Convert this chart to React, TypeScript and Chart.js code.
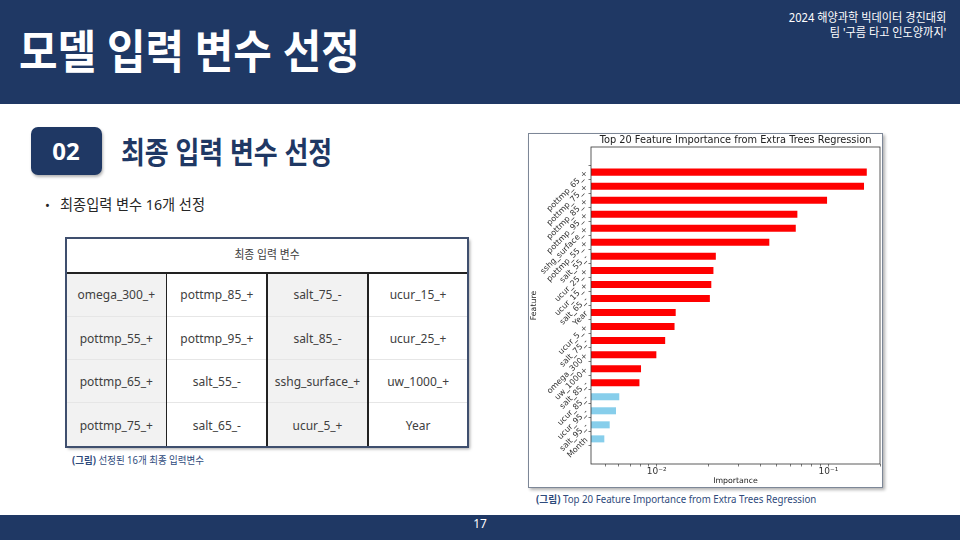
import React, { useEffect, useRef } from "react";
import { Chart, registerables } from "chart.js";

Chart.register(...registerables);

// ---------- data ----------
const chartTitle = "Top 20 Feature Importance from Extra Trees Regression";
const features = [
  "pottmp_65_+", "pottmp_75_+", "pottmp_85_+", "pottmp_95_+", "sshg_surface_+",
  "pottmp_55_+", "salt_55_-", "ucur_25_+", "ucur_15_+", "salt_65_-",
  "Year", "ucur_5_+", "salt_75_-", "omega_300+", "uw_1000+",
  "salt_85_-", "ucur_85_-", "ucur_95_-", "salt_95_-", "Month",
];
const importance = [
  0.1675, 0.1614, 0.0983, 0.066, 0.0646,
  0.0453, 0.0221, 0.0214, 0.0208, 0.0204,
  0.0129, 0.0127, 0.0112, 0.00995, 0.0081,
  0.00793, 0.00605, 0.00579, 0.00532, 0.00495,
];
const selectedCount = 16;
const xTickValues = [
  0.005, 0.006, 0.007, 0.008, 0.009, 0.01,
  0.02, 0.03, 0.04, 0.05, 0.06, 0.07, 0.08, 0.09, 0.1, 0.2,
];
const xMajorLabels: Record<string, string> = { "0.01": "10\u207B\u00B2", "0.1": "10\u207B\u00B9" };
const xRange = [0.00414, 0.2];
const yRange = [-1.225, 20.225];

const tableHeader = "최종 입력 변수";
const tableRows = [
  ["omega_300_+", "pottmp_85_+", "salt_75_-", "ucur_15_+"],
  ["pottmp_55_+", "pottmp_95_+", "salt_85_-", "ucur_25_+"],
  ["pottmp_65_+", "salt_55_-", "sshg_surface_+", "uw_1000_+"],
  ["pottmp_75_+", "salt_65_-", "ucur_5_+", "Year"],
];

const NAVY = "#1f3864";
const KFONT = '"Noto Sans", "Noto Sans CJK KR", sans-serif';
const CFONT = '"DejaVu Sans", sans-serif';

type TextProps = {
  x: number; cy: number; size: number; text: React.ReactNode;
  color?: string; weight?: number; sx?: number; align?: "left" | "right" | "center";
  family?: string;
};

function Txt({ x, cy, size, text, color = "#222", weight = 400, sx = 1, align = "left", family = KFONT }: TextProps) {
  const h = size * 1.6;
  const style: React.CSSProperties = {
    position: "absolute",
    top: cy - h / 2,
    height: h,
    lineHeight: h + "px",
    fontSize: size,
    fontWeight: weight,
    color,
    fontFamily: family,
    whiteSpace: "nowrap",
    transform: `scaleX(${sx})`,
  };
  if (align === "left") {
    style.left = x;
    style.transformOrigin = "left center";
  } else if (align === "right") {
    style.right = 960 - x;
    style.transformOrigin = "right center";
  } else {
    style.left = x - 200;
    style.width = 400;
    style.textAlign = "center";
    style.transformOrigin = "center center";
  }
  return <div style={style}>{text}</div>;
}

function FeatureChart() {
  const ref = useRef<HTMLCanvasElement | null>(null);
  useEffect(() => {
    if (!ref.current) return;
    const titlePlugin = {
      id: "axTitle",
      afterDraw(chart: any) {
        const { ctx, chartArea } = chart;
        ctx.save();
        ctx.font = `9.8px ${CFONT}`;
        ctx.fillStyle = "#222";
        ctx.textAlign = "center";
        ctx.textBaseline = "middle";
        ctx.fillText(chartTitle, (chartArea.left + chartArea.right) / 2, chartArea.top - 7);
        ctx.strokeStyle = "#333";
        ctx.lineWidth = 0.8;
        ctx.strokeRect(chartArea.left, chartArea.top, chartArea.right - chartArea.left, chartArea.bottom - chartArea.top);
        ctx.restore();
      },
    };
    const chart = new Chart(ref.current, {
      type: "bar",
      data: {
        datasets: [
          {
            data: importance.map((v, i) => ({ x: v, y: i })),
            backgroundColor: importance.map((_, i) => (i < selectedCount ? "#ff0000" : "#87ceeb")),
            borderWidth: 0,
            barPercentage: 0.5,
            categoryPercentage: 1,
          } as any,
        ],
      },
      options: {
        indexAxis: "y",
        animation: false,
        responsive: false,
        maintainAspectRatio: false,
        layout: { padding: { top: 13, right: 2, left: 0, bottom: 0 } },
        plugins: { legend: { display: false }, tooltip: { enabled: false }, title: { display: false } },
        scales: {
          x: {
            type: "logarithmic",
            position: "bottom",
            min: xRange[0],
            max: xRange[1],
            afterBuildTicks(scale: any) {
              scale.ticks = xTickValues.map((v) => ({ value: v }));
            },
            afterFit(scale: any) {
              scale.height = 23;
            },
            ticks: {
              autoSkip: false,
              maxRotation: 0,
              padding: 0,
              color: "#333",
              font: { family: CFONT, size: 9 },
              callback: (v: any) => xMajorLabels[String(Number(v))] ?? "",
            },
            grid: { drawOnChartArea: false, drawTicks: true, tickLength: 2.5, tickColor: "#444", tickWidth: 0.7 },
            border: { display: false },
            title: {
              display: true,
              text: "Importance",
              color: "#222",
              font: { family: CFONT, size: 7.8 },
              padding: { top: 0, bottom: 1 },
            },
          },
          y: {
            type: "linear",
            reverse: true,
            min: yRange[0],
            max: yRange[1],
            afterBuildTicks(scale: any) {
              scale.ticks = features.map((_, i) => ({ value: i }));
            },
            afterFit(scale: any) {
              scale.width = 62;
            },
            ticks: {
              autoSkip: false,
              minRotation: 45,
              maxRotation: 45,
              padding: 2,
              color: "#333",
              font: { family: CFONT, size: 8 },
              callback: (v: any) => features[Number(v)] ?? "",
            },
            grid: { drawOnChartArea: false, drawTicks: true, tickLength: 2.5, tickColor: "#444", tickWidth: 0.7 },
            border: { display: false },
            title: {
              display: true,
              text: "Feature",
              color: "#222",
              font: { family: CFONT, size: 7.8 },
              padding: 0,
            },
          },
        },
      } as any,
      plugins: [titlePlugin],
    });
    return () => chart.destroy();
  }, []);
  return (
    <canvas
      ref={ref}
      width={353}
      height={353}
      style={{ position: "absolute", left: 529, top: 134, width: 353, height: 353 }}
    />
  );
}

export default function App() {
  const tableLeft = 66;
  const tableTop = 238;
  const colW = 100.6;
  const rowTops = [273, 316, 359, 402];
  const rowHs = [43, 43, 43, 45.5];
  return (
    <div
      style={{
        position: "fixed", left: 0, top: 0, width: 960, height: 540,
        background: "#fff", overflow: "hidden", fontFamily: KFONT,
      }}
    >
      {/* header */}
      <div style={{ position: "absolute", left: 0, top: 0, width: 960, height: 104, background: NAVY }} />
      <Txt x={19} cy={51} size={46} text="모델 입력 변수 선정" color="#fff" weight={700} sx={0.91} />
      <Txt x={946} cy={18} size={12} text="2024 해양과학 빅데이터 경진대회" color="#fff" sx={0.93} align="right" />
      <Txt x={946} cy={33} size={12} text="팀 '구름 타고 인도양까지'" color="#fff" sx={0.93} align="right" />

      {/* section badge */}
      <div
        style={{
          position: "absolute", left: 31, top: 127, width: 71, height: 48, borderRadius: 7,
          background: NAVY, boxShadow: "1px 2px 3px rgba(0,0,0,0.3)",
        }}
      />
      <Txt x={66} cy={151} size={24} text="02" color="#fff" weight={700} align="center" />
      <Txt x={121} cy={152} size={30} text="최종 입력 변수 선정" color={NAVY} weight={700} sx={0.865} />

      {/* bullet */}
      <Txt x={45} cy={205} size={13} text="•" color="#262626" />
      <Txt x={60} cy={205} size={14.5} text="최종입력 변수 16개 선정" color="#262626" sx={0.98} />

      {/* table */}
      <div
        style={{
          position: "absolute", left: tableLeft, top: tableTop, width: colW * 4, height: 209,
          boxShadow: "2px 2px 3px rgba(0,0,0,0.35)", background: "#fff",
        }}
      />
      {tableRows.map((row, r) =>
        row.map((cell, c) => (
          <div
            key={`${r}-${c}`}
            style={{
              position: "absolute",
              left: tableLeft + c * colW,
              top: rowTops[r],
              width: colW,
              height: rowHs[r],
              background: c % 2 === 0 ? "#f2f2f2" : "#ffffff",
              display: "flex",
              alignItems: "center",
              justifyContent: "center",
              fontSize: 12,
              color: "#404040",
              fontFamily: KFONT,
              borderTop: r > 0 ? "1px solid #e6e6e6" : "none",
              boxSizing: "border-box",
            }}
          >
            {cell}
          </div>
        ))
      )}
      <Txt x={267} cy={255} size={12} text={tableHeader} color="#404040" align="center" sx={0.9} />
      {/* header bottom line */}
      <div style={{ position: "absolute", left: tableLeft, top: 272, width: colW * 4, height: 1.5, background: "#222" }} />
      {/* column lines */}
      {[1, 2, 3].map((c) => (
        <div
          key={c}
          style={{ position: "absolute", left: tableLeft + c * colW - 0.75, top: 272, width: 1.5, height: 175, background: "#222" }}
        />
      ))}
      {/* outer border */}
      <div
        style={{
          position: "absolute", left: tableLeft - 1, top: tableTop - 1, width: colW * 4 + 2, height: 211,
          border: "2px solid #3f4f6e", boxSizing: "border-box",
        }}
      />
      <Txt
        x={72}
        cy={460}
        size={10}
        sx={0.95}
        color="#2f4b7c"
        text={<><b>(그림)</b> 선정된 16개 최종 입력변수</>}
      />

      {/* chart frame */}
      <div
        style={{
          position: "absolute", left: 528, top: 133, width: 355, height: 355,
          border: "1px solid #7d8797", boxSizing: "border-box", background: "#fff",
          boxShadow: "2px 2px 3px rgba(0,0,0,0.3)",
        }}
      />
      <FeatureChart />
      <Txt
        x={536}
        cy={499}
        size={10}
        sx={0.97}
        color="#2f4b7c"
        text={<><b>(그림)</b> Top 20 Feature Importance from Extra Trees Regression</>}
      />

      {/* footer */}
      <div style={{ position: "absolute", left: 0, top: 515, width: 960, height: 25, background: NAVY }} />
      <Txt x={480} cy={524} size={12} text="17" color="#fff" align="center" />
    </div>
  );
}
